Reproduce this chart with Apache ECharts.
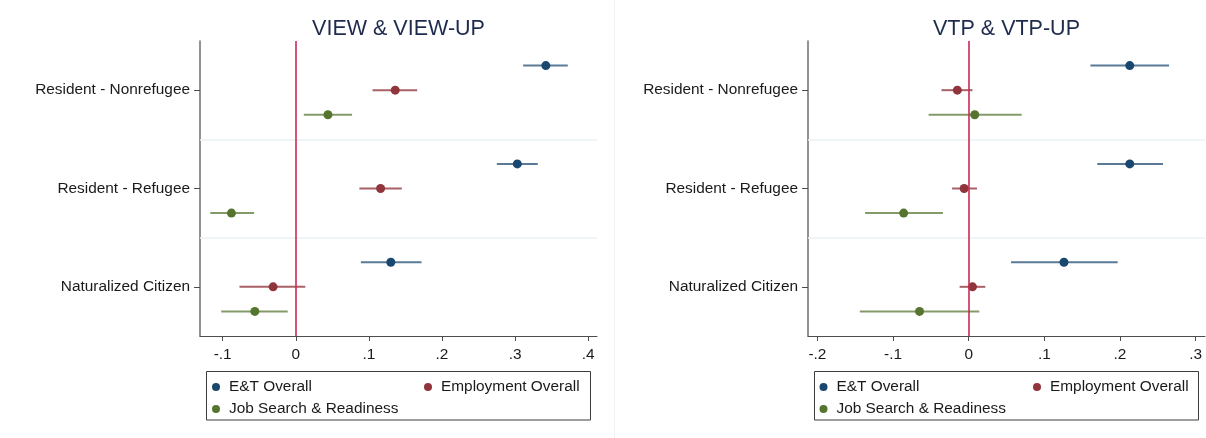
<!DOCTYPE html>
<html>
<head>
<meta charset="utf-8">
<script src="https://cdn.jsdelivr.net/npm/echarts@6/dist/echarts.min.js"></script>
<style>
  html, body { margin: 0; padding: 0; background: #ffffff; }
  #chart { width: 1206px; height: 438px; }
</style>
</head>
<body>
<div id="chart"></div>
<script>
// Subgroup categories (rows) and the three outcome measures
const categories = ['Resident - Nonrefugee', 'Resident - Refugee', 'Naturalized Citizen'];
const measures = ['E&T Overall', 'Employment Overall', 'Job Search & Readiness'];

// VIEW & VIEW-UP: point estimates and 95% CI bounds, one value per category
const viewEtEst  = [0.342, 0.303, 0.130];
const viewEtLo   = [0.311, 0.275, 0.089];
const viewEtHi   = [0.372, 0.331, 0.172];
const viewEmpEst = [0.136, 0.116, -0.031];
const viewEmpLo  = [0.105, 0.087, -0.077];
const viewEmpHi  = [0.166, 0.145, 0.013];
const viewJobEst = [0.044, -0.088, -0.056];
const viewJobLo  = [0.011, -0.117, -0.102];
const viewJobHi  = [0.077, -0.057, -0.011];

// VTP & VTP-UP
const vtpEtEst  = [0.213, 0.213, 0.126];
const vtpEtLo   = [0.161, 0.170, 0.056];
const vtpEtHi   = [0.265, 0.257, 0.197];
const vtpEmpEst = [-0.015, -0.006, 0.005];
const vtpEmpLo  = [-0.036, -0.022, -0.012];
const vtpEmpHi  = [0.005, 0.011, 0.022];
const vtpJobEst = [0.008, -0.086, -0.065];
const vtpJobLo  = [-0.053, -0.137, -0.144];
const vtpJobHi  = [0.070, -0.034, 0.014];

// Axis tick labels
const viewTicks = [-0.1, 0, 0.1, 0.2, 0.3, 0.4];
const vtpTicks  = [-0.2, -0.1, 0, 0.1, 0.2, 0.3];

const FONT = "'Liberation Sans', Arial, sans-serif";
const TXT = 15.4;
const markerColors = ['#1a476f', '#90353b', '#55752f'];
const ciColors = ['rgba(26,71,111,0.72)', 'rgba(144,53,59,0.78)', 'rgba(85,117,47,0.72)'];
const rowShift = [-0.25, 0, 0.25];   // vertical placement of each measure inside its row

function fmtTick(v) {
  if (v === 0) return '0';
  const s = String(Math.abs(+v.toFixed(3))).replace(/^0/, '');
  return (v < 0 ? '-' : '') + s;
}

const panels = [
  { est: [viewEtEst, viewEmpEst, viewJobEst], lo: [viewEtLo, viewEmpLo, viewJobLo], hi: [viewEtHi, viewEmpHi, viewJobHi],
    ticks: viewTicks, min: -0.131, max: 0.412 },
  { est: [vtpEtEst, vtpEmpEst, vtpJobEst], lo: [vtpEtLo, vtpEmpLo, vtpJobLo], hi: [vtpEtHi, vtpEmpHi, vtpJobHi],
    ticks: vtpTicks, min: -0.2125, max: 0.3125 }
];

const grids = [
  { left: 200, top: 41, width: 397, height: 295 },
  { left: 808, top: 41, width: 397, height: 295 }
];

const xAxes = [], yAxes = [], series = [];
panels.forEach((p, gi) => {
  xAxes.push({
    type: 'value', gridIndex: gi, min: p.min, max: p.max,
    splitLine: { show: false },
    axisLine: { show: true, onZero: false, lineStyle: { color: '#4d4d4d', width: 1 } },
    axisTick: { show: true, length: 5, customValues: p.ticks, lineStyle: { color: '#4d4d4d' } },
    axisLabel: { customValues: p.ticks, formatter: fmtTick, color: '#1a1a1a', fontSize: TXT, fontFamily: FONT, margin: 11 }
  });
  yAxes.push({
    type: 'value', gridIndex: gi, min: 0.5, max: 3.5, inverse: true,
    splitLine: { show: false },
    axisLine: { show: true, onZero: false, lineStyle: { color: '#6e6e6e', width: 1.5 } },
    axisTick: { show: true, length: 6, customValues: [1, 2, 3], lineStyle: { color: '#4d4d4d' } },
    axisLabel: { customValues: [1, 2, 3], formatter: v => categories[Math.round(v) - 1] || '',
                 color: '#1a1a1a', fontSize: TXT, fontFamily: FONT, margin: 10, padding: [4, 0, 0, 0] }
  });

  // confidence intervals
  measures.forEach((m, mi) => {
    const data = categories.map((c, ci) => [p.lo[mi][ci], p.hi[mi][ci], ci + 1 + rowShift[mi]]);
    series.push({
      type: 'custom', name: m, xAxisIndex: gi, yAxisIndex: gi, z: 1,
      encode: { x: [0, 1], y: 2 },
      data: data,
      renderItem: (params, api) => {
        const a = api.coord([api.value(0), api.value(2)]);
        const b = api.coord([api.value(1), api.value(2)]);
        return { type: 'line', shape: { x1: a[0], y1: a[1], x2: b[0], y2: b[1] },
                 style: { stroke: ciColors[mi], lineWidth: 2 } };
      }
    });
  });

  // row separators and zero reference line
  series.push({
    type: 'scatter', xAxisIndex: gi, yAxisIndex: gi, z: 2, data: [], silent: true,
    markLine: {
      silent: true, symbol: 'none', animation: false, label: { show: false },
      data: [
        { yAxis: 1.5, lineStyle: { color: '#eaf1f3', width: 1.5, type: 'solid' } },
        { yAxis: 2.5, lineStyle: { color: '#eaf1f3', width: 1.5, type: 'solid' } },
        { xAxis: 0, lineStyle: { color: '#c92a55', width: 1.6, type: 'solid' } }
      ]
    }
  });

  // point estimates
  measures.forEach((m, mi) => {
    series.push({
      type: 'scatter', name: m, xAxisIndex: gi, yAxisIndex: gi, z: 3,
      symbol: 'circle', symbolSize: 9,
      itemStyle: { color: markerColors[mi], opacity: 1 },
      data: categories.map((c, ci) => [p.est[mi][ci], ci + 1 + rowShift[mi]])
    });
  });
});

// legends: two-column layout inside a bordered box under each panel
const legendSpots = [
  { x: [212, 424], y: [387, 409] },
  { x: [819.5, 1033], y: [387, 409] }
];
const legends = [];
legendSpots.forEach(s => {
  [[0, 0, 0], [1, 1, 0], [2, 0, 1]].forEach(([mi, col, row]) => {
    legends.push({
      data: [{ name: measures[mi], icon: 'circle', itemStyle: { color: markerColors[mi] } }],
      left: s.x[col], top: s.y[row] - 7.5, padding: 0,
      itemWidth: 16, itemHeight: 8, selectedMode: false,
      textStyle: { fontSize: TXT, fontFamily: FONT, color: '#1a1a1a' }
    });
  });
});

const graphics = [
  { type: 'text', x: 398.5, y: 29, z: 10,
    style: { text: 'VIEW & VIEW-UP', fill: '#1e2b4d', font: "21.5px " + FONT, textAlign: 'center', textVerticalAlign: 'middle' } },
  { type: 'text', x: 1006.5, y: 29, z: 10,
    style: { text: 'VTP & VTP-UP', fill: '#1e2b4d', font: "21.5px " + FONT, textAlign: 'center', textVerticalAlign: 'middle' } },
  { type: 'rect', shape: { x: 206.5, y: 371.5, width: 384, height: 48.5 }, z: -1,
    style: { fill: '#ffffff', stroke: '#3c3c3c', lineWidth: 1 } },
  { type: 'rect', shape: { x: 814.5, y: 371.5, width: 384, height: 48.5 }, z: -1,
    style: { fill: '#ffffff', stroke: '#3c3c3c', lineWidth: 1 } },
  { type: 'line', shape: { x1: 614.5, y1: 0, x2: 614.5, y2: 438 }, z: -2,
    style: { stroke: '#f1f1f1', lineWidth: 1 } }
];

const chart = echarts.init(document.getElementById('chart'), null, { renderer: 'canvas' });
chart.setOption({
  animation: false,
  backgroundColor: '#ffffff',
  grid: grids,
  xAxis: xAxes,
  yAxis: yAxes,
  legend: legends,
  series: series,
  graphic: graphics
});
</script>
</body>
</html>
